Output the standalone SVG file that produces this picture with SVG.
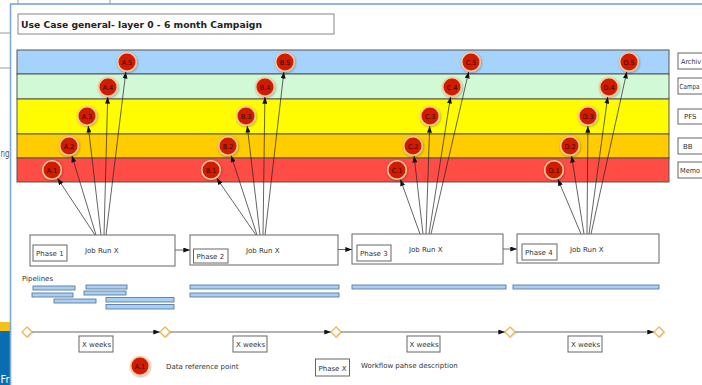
<svg xmlns="http://www.w3.org/2000/svg" width="702" height="385" viewBox="0 0 702 385">
  <defs>
    <marker id="arrow" viewBox="0 0 8 6" refX="8" refY="3" markerWidth="7" markerHeight="5" markerUnits="userSpaceOnUse" orient="auto">
      <path d="M0,0 L8,3 L0,6 Z" fill="#111"/>
    </marker>
    <filter id="glow" x="-40%" y="-40%" width="180%" height="180%">
      <feDropShadow dx="0.6" dy="0.8" stdDeviation="0.9" flood-color="#000" flood-opacity="0.35"/>
    </filter>
    <filter id="soft" x="-50%" y="-50%" width="200%" height="200%">
      <feDropShadow dx="0.5" dy="0.5" stdDeviation="0.6" flood-color="#000" flood-opacity="0.25"/>
    </filter>
  </defs>
  <style>
    text { font-family: "DejaVu Sans", "Liberation Sans", sans-serif; fill: #333; }
    .t7 { font-size: 7px; }
    .lbl { font-size: 6.5px; fill: #3a0800; text-anchor: middle; }
    .box { fill: #fff; stroke: #666; stroke-width: 1; }
    .band { stroke: #555; stroke-width: 1; }
    .dot { fill: #d01e00; stroke: #f9c89a; stroke-width: 1.6; filter: url(#glow); }
    .link { stroke: #222; stroke-width: 0.7; fill: none; marker-end: url(#arrow); }
    .flow { stroke: #666; stroke-width: 1; fill: none; marker-end: url(#arrow); }
    .pipe { fill: #a8cff5; stroke: #5e7a9c; stroke-width: 0.9; }
    .mile { fill: #fff; stroke: #f0b450; stroke-width: 1.2; filter: url(#soft); }
  </style>

  <rect width="702" height="385" fill="#fff"/>

  <!-- neighbouring window at the left edge -->
  <g id="backdrop">
    <line x1="0" y1="33" x2="10" y2="33" stroke="#999" stroke-width="1"/>
    <line x1="0" y1="68" x2="10" y2="68" stroke="#999" stroke-width="1"/>
    <line x1="18" y1="0" x2="18" y2="4" stroke="#999" stroke-width="1"/>
    <line x1="110" y1="0" x2="110" y2="4" stroke="#999" stroke-width="1"/>
    <text x="0.5" y="157" font-size="11" textLength="9" lengthAdjust="spacingAndGlyphs" style="fill:#555">ng</text>
    <rect x="0" y="322" width="10" height="9" fill="#f4c319"/>
    <rect x="0" y="331" width="10" height="54" fill="#0a6db2"/>
    <text x="0.5" y="383" font-size="10" textLength="9" lengthAdjust="spacingAndGlyphs" style="fill:#fff">Fr</text>
    <line x1="10.5" y1="4" x2="10.5" y2="385" stroke="#7fa9dc" stroke-width="1.6"/>
    <line x1="10" y1="4" x2="702" y2="4" stroke="#6d9fd6" stroke-width="1.6"/>
  </g>

  <!-- title -->
  <g id="title">
    <rect x="18" y="14" width="316" height="20" fill="#fff" stroke="#888" stroke-width="1"/>
    <text x="21" y="27.5" font-size="9.2" font-weight="bold" textLength="241" lengthAdjust="spacingAndGlyphs" style="fill:#222">Use Case general- layer 0 - 6 month Campaign</text>
  </g>

  <!-- storage layers -->
  <g id="layers">
    <rect class="band" x="17" y="50" width="652" height="24" fill="#a6d3fb"/>
    <rect class="band" x="17" y="74" width="652" height="25" fill="#d2f9d6"/>
    <rect class="band" x="17" y="99" width="652" height="35" fill="#fffb00"/>
    <rect class="band" x="17" y="134" width="652" height="24" fill="#ffcc00"/>
    <rect class="band" x="17" y="158" width="652" height="24" fill="#ff4c45"/>
  </g>

  <g id="layer-labels">
    <g id="lbl-archive"><rect class="box" x="678" y="53" width="30" height="16"/><text class="t7" x="681" y="64" textLength="20" lengthAdjust="spacingAndGlyphs">Archiv</text></g>
    <g id="lbl-campaign"><rect class="box" x="678" y="78" width="30" height="16"/><text class="t7" x="679.5" y="89" textLength="20" lengthAdjust="spacingAndGlyphs">Campa</text></g>
    <g id="lbl-pfs"><rect class="box" x="678" y="109" width="30" height="15"/><text class="t7" x="684" y="119">PFS</text></g>
    <g id="lbl-bb"><rect class="box" x="678" y="138" width="30" height="16"/><text class="t7" x="683" y="149">BB</text></g>
    <g id="lbl-memory"><rect class="box" x="678" y="162" width="30" height="16"/><text class="t7" x="680" y="173" textLength="20" lengthAdjust="spacingAndGlyphs">Memo</text></g>
  </g>

  <!-- connectors: job runs to data reference points, phase flow, timeline -->
  <g id="connectors">
    <line class="link" x1="95" y1="235" x2="57.5" y2="178.3"/>
    <line class="link" x1="96" y1="235" x2="71.9" y2="155.6"/>
    <line class="link" x1="101" y1="235" x2="88.2" y2="125.9"/>
    <line class="link" x1="104" y1="235" x2="107.7" y2="97"/>
    <line class="link" x1="106" y1="235" x2="125.8" y2="71.9"/>

    <line class="link" x1="256" y1="235" x2="216.7" y2="178.2"/>
    <line class="link" x1="257" y1="235" x2="231.1" y2="155.5"/>
    <line class="link" x1="260" y1="235" x2="247.2" y2="125.9"/>
    <line class="link" x1="263" y1="235" x2="264.9" y2="97"/>
    <line class="link" x1="265" y1="235" x2="283.9" y2="71.9"/>

    <line class="link" x1="420" y1="234" x2="400.4" y2="179.4"/>
    <line class="link" x1="423" y1="234" x2="414.1" y2="155.9"/>
    <line class="link" x1="426" y1="234" x2="429.7" y2="126"/>
    <line class="link" x1="429" y1="234" x2="450.5" y2="96.9"/>
    <line class="link" x1="431" y1="234" x2="468.7" y2="71.7"/>

    <line class="link" x1="581" y1="234" x2="557.9" y2="179.2"/>
    <line class="link" x1="584" y1="234" x2="571.6" y2="155.9"/>
    <line class="link" x1="587" y1="234" x2="587.9" y2="126"/>
    <line class="link" x1="589" y1="234" x2="607.7" y2="96.9"/>
    <line class="link" x1="591" y1="234" x2="626.8" y2="71.8"/>

    <line class="flow" x1="175" y1="250" x2="190" y2="250"/>
    <line class="flow" x1="338" y1="249.5" x2="352" y2="249.5"/>
    <line class="flow" x1="503" y1="249" x2="517" y2="249"/>

    <line class="flow" x1="32" y1="332" x2="160" y2="332"/>
    <line class="flow" x1="170" y1="332" x2="331" y2="332"/>
    <line class="flow" x1="341" y1="332" x2="505" y2="332"/>
    <line class="flow" x1="515" y1="332" x2="654" y2="332"/>
  </g>

  <!-- data reference points -->
  <g id="A5"><circle class="dot" cx="127" cy="62" r="9.3"/><text class="lbl" x="127" y="64.5">A.5</text></g>
  <g id="A4"><circle class="dot" cx="108" cy="87" r="9.3"/><text class="lbl" x="108" y="89.5">A.4</text></g>
  <g id="A3"><circle class="dot" cx="87" cy="116" r="9.3"/><text class="lbl" x="87" y="118.5">A.3</text></g>
  <g id="A2"><circle class="dot" cx="69" cy="146" r="9.3"/><text class="lbl" x="69" y="148.5">A.2</text></g>
  <g id="A1"><circle class="dot" cx="52" cy="170" r="9.3"/><text class="lbl" x="52" y="172.5">A.1</text></g>

  <g id="B5"><circle class="dot" cx="285" cy="62" r="9.3"/><text class="lbl" x="285" y="64.5">B.5</text></g>
  <g id="B4"><circle class="dot" cx="265" cy="87" r="9.3"/><text class="lbl" x="265" y="89.5">B.4</text></g>
  <g id="B3"><circle class="dot" cx="246" cy="116" r="9.3"/><text class="lbl" x="246" y="118.5">B.3</text></g>
  <g id="B2"><circle class="dot" cx="228" cy="146" r="9.3"/><text class="lbl" x="228" y="148.5">B.2</text></g>
  <g id="B1"><circle class="dot" cx="211" cy="170" r="9.3"/><text class="lbl" x="211" y="172.5">B.1</text></g>

  <g id="C5"><circle class="dot" cx="471" cy="62" r="9.3"/><text class="lbl" x="471" y="64.5">C.5</text></g>
  <g id="C4"><circle class="dot" cx="452" cy="87" r="9.3"/><text class="lbl" x="452" y="89.5">C.4</text></g>
  <g id="C3"><circle class="dot" cx="430" cy="116" r="9.3"/><text class="lbl" x="430" y="118.5">C.3</text></g>
  <g id="C2"><circle class="dot" cx="413" cy="146" r="9.3"/><text class="lbl" x="413" y="148.5">C.2</text></g>
  <g id="C1"><circle class="dot" cx="397" cy="170" r="9.3"/><text class="lbl" x="397" y="172.5">C.1</text></g>

  <g id="D5"><circle class="dot" cx="629" cy="62" r="9.3"/><text class="lbl" x="629" y="64.5">D.5</text></g>
  <g id="D4"><circle class="dot" cx="609" cy="87" r="9.3"/><text class="lbl" x="609" y="89.5">D.4</text></g>
  <g id="D3"><circle class="dot" cx="588" cy="116" r="9.3"/><text class="lbl" x="588" y="118.5">D.3</text></g>
  <g id="D2"><circle class="dot" cx="570" cy="146" r="9.3"/><text class="lbl" x="570" y="148.5">D.2</text></g>
  <g id="D1"><circle class="dot" cx="554" cy="170" r="9.3"/><text class="lbl" x="554" y="172.5">D.1</text></g>

  <!-- job runs per phase -->
  <g id="phase1">
    <rect class="box" x="30" y="235" width="145" height="31"/>
    <rect class="box" x="33" y="245" width="34" height="16"/>
    <text class="t7" x="36" y="256">Phase 1</text>
    <text class="t7" x="85" y="252.5">Job Run X</text>
  </g>
  <g id="phase2">
    <rect class="box" x="190" y="235" width="148" height="30"/>
    <rect class="box" x="193.5" y="249" width="34.5" height="14"/>
    <text class="t7" x="196.5" y="259">Phase 2</text>
    <text class="t7" x="246" y="252.5">Job Run X</text>
  </g>
  <g id="phase3">
    <rect class="box" x="352" y="234" width="151" height="30"/>
    <rect class="box" x="357" y="245" width="34" height="16"/>
    <text class="t7" x="360" y="256">Phase 3</text>
    <text class="t7" x="409" y="251.5">Job Run X</text>
  </g>
  <g id="phase4">
    <rect class="box" x="517" y="234" width="142" height="29"/>
    <rect class="box" x="522" y="244" width="35" height="16"/>
    <text class="t7" x="525" y="255">Phase 4</text>
    <text class="t7" x="570" y="251.5">Job Run X</text>
  </g>

  <!-- pipelines -->
  <g id="pipelines">
    <text class="t7" x="22" y="280.5">Pipelines</text>
    <rect class="pipe" x="33" y="286" width="42" height="4"/>
    <rect class="pipe" x="86" y="285" width="41" height="4"/>
    <rect class="pipe" x="32" y="293" width="41" height="4"/>
    <rect class="pipe" x="84" y="291" width="42" height="4"/>
    <rect class="pipe" x="54" y="299" width="42" height="4"/>
    <rect class="pipe" x="106" y="297.5" width="68" height="4.5"/>
    <rect class="pipe" x="106" y="304.5" width="68" height="4.5"/>
    <rect class="pipe" x="190" y="285" width="149" height="4"/>
    <rect class="pipe" x="190" y="293" width="149" height="4"/>
    <rect class="pipe" x="352" y="285" width="154" height="4"/>
    <rect class="pipe" x="513" y="285" width="146" height="4"/>
  </g>

  <!-- timeline milestones -->
  <g id="milestones">
    <path class="mile" d="M27,327 L32,332 L27,337 L22,332 Z"/>
    <path class="mile" d="M165,327 L170,332 L165,337 L160,332 Z"/>
    <path class="mile" d="M336,327 L341,332 L336,337 L331,332 Z"/>
    <path class="mile" d="M510,327 L515,332 L510,337 L505,332 Z"/>
    <path class="mile" d="M659,327 L664,332 L659,337 L654,332 Z"/>
  </g>
  <g id="durations">
    <g id="weeks1"><rect class="box" x="79" y="336" width="34" height="16"/><text class="t7" x="82" y="347">X weeks</text></g>
    <g id="weeks2"><rect class="box" x="233" y="336" width="34" height="16"/><text class="t7" x="236" y="347">X weeks</text></g>
    <g id="weeks3"><rect class="box" x="407" y="336" width="33" height="16"/><text class="t7" x="409.5" y="347">X weeks</text></g>
    <g id="weeks4"><rect class="box" x="568" y="336" width="34" height="16"/><text class="t7" x="571" y="347">X weeks</text></g>
  </g>

  <!-- legend -->
  <g id="legend">
    <g id="legend-point">
      <circle class="dot" cx="140" cy="366" r="9.3"/>
      <text class="lbl" x="140" y="368.5">A.1</text>
      <text class="t7" x="166" y="368.5">Data reference point</text>
    </g>
    <g id="legend-phase">
      <rect class="box" x="315.5" y="359" width="34" height="17"/>
      <text class="t7" x="318.5" y="370.5">Phase X</text>
      <text class="t7" x="361" y="367.5">Workflow pahse description</text>
    </g>
  </g>
</svg>
